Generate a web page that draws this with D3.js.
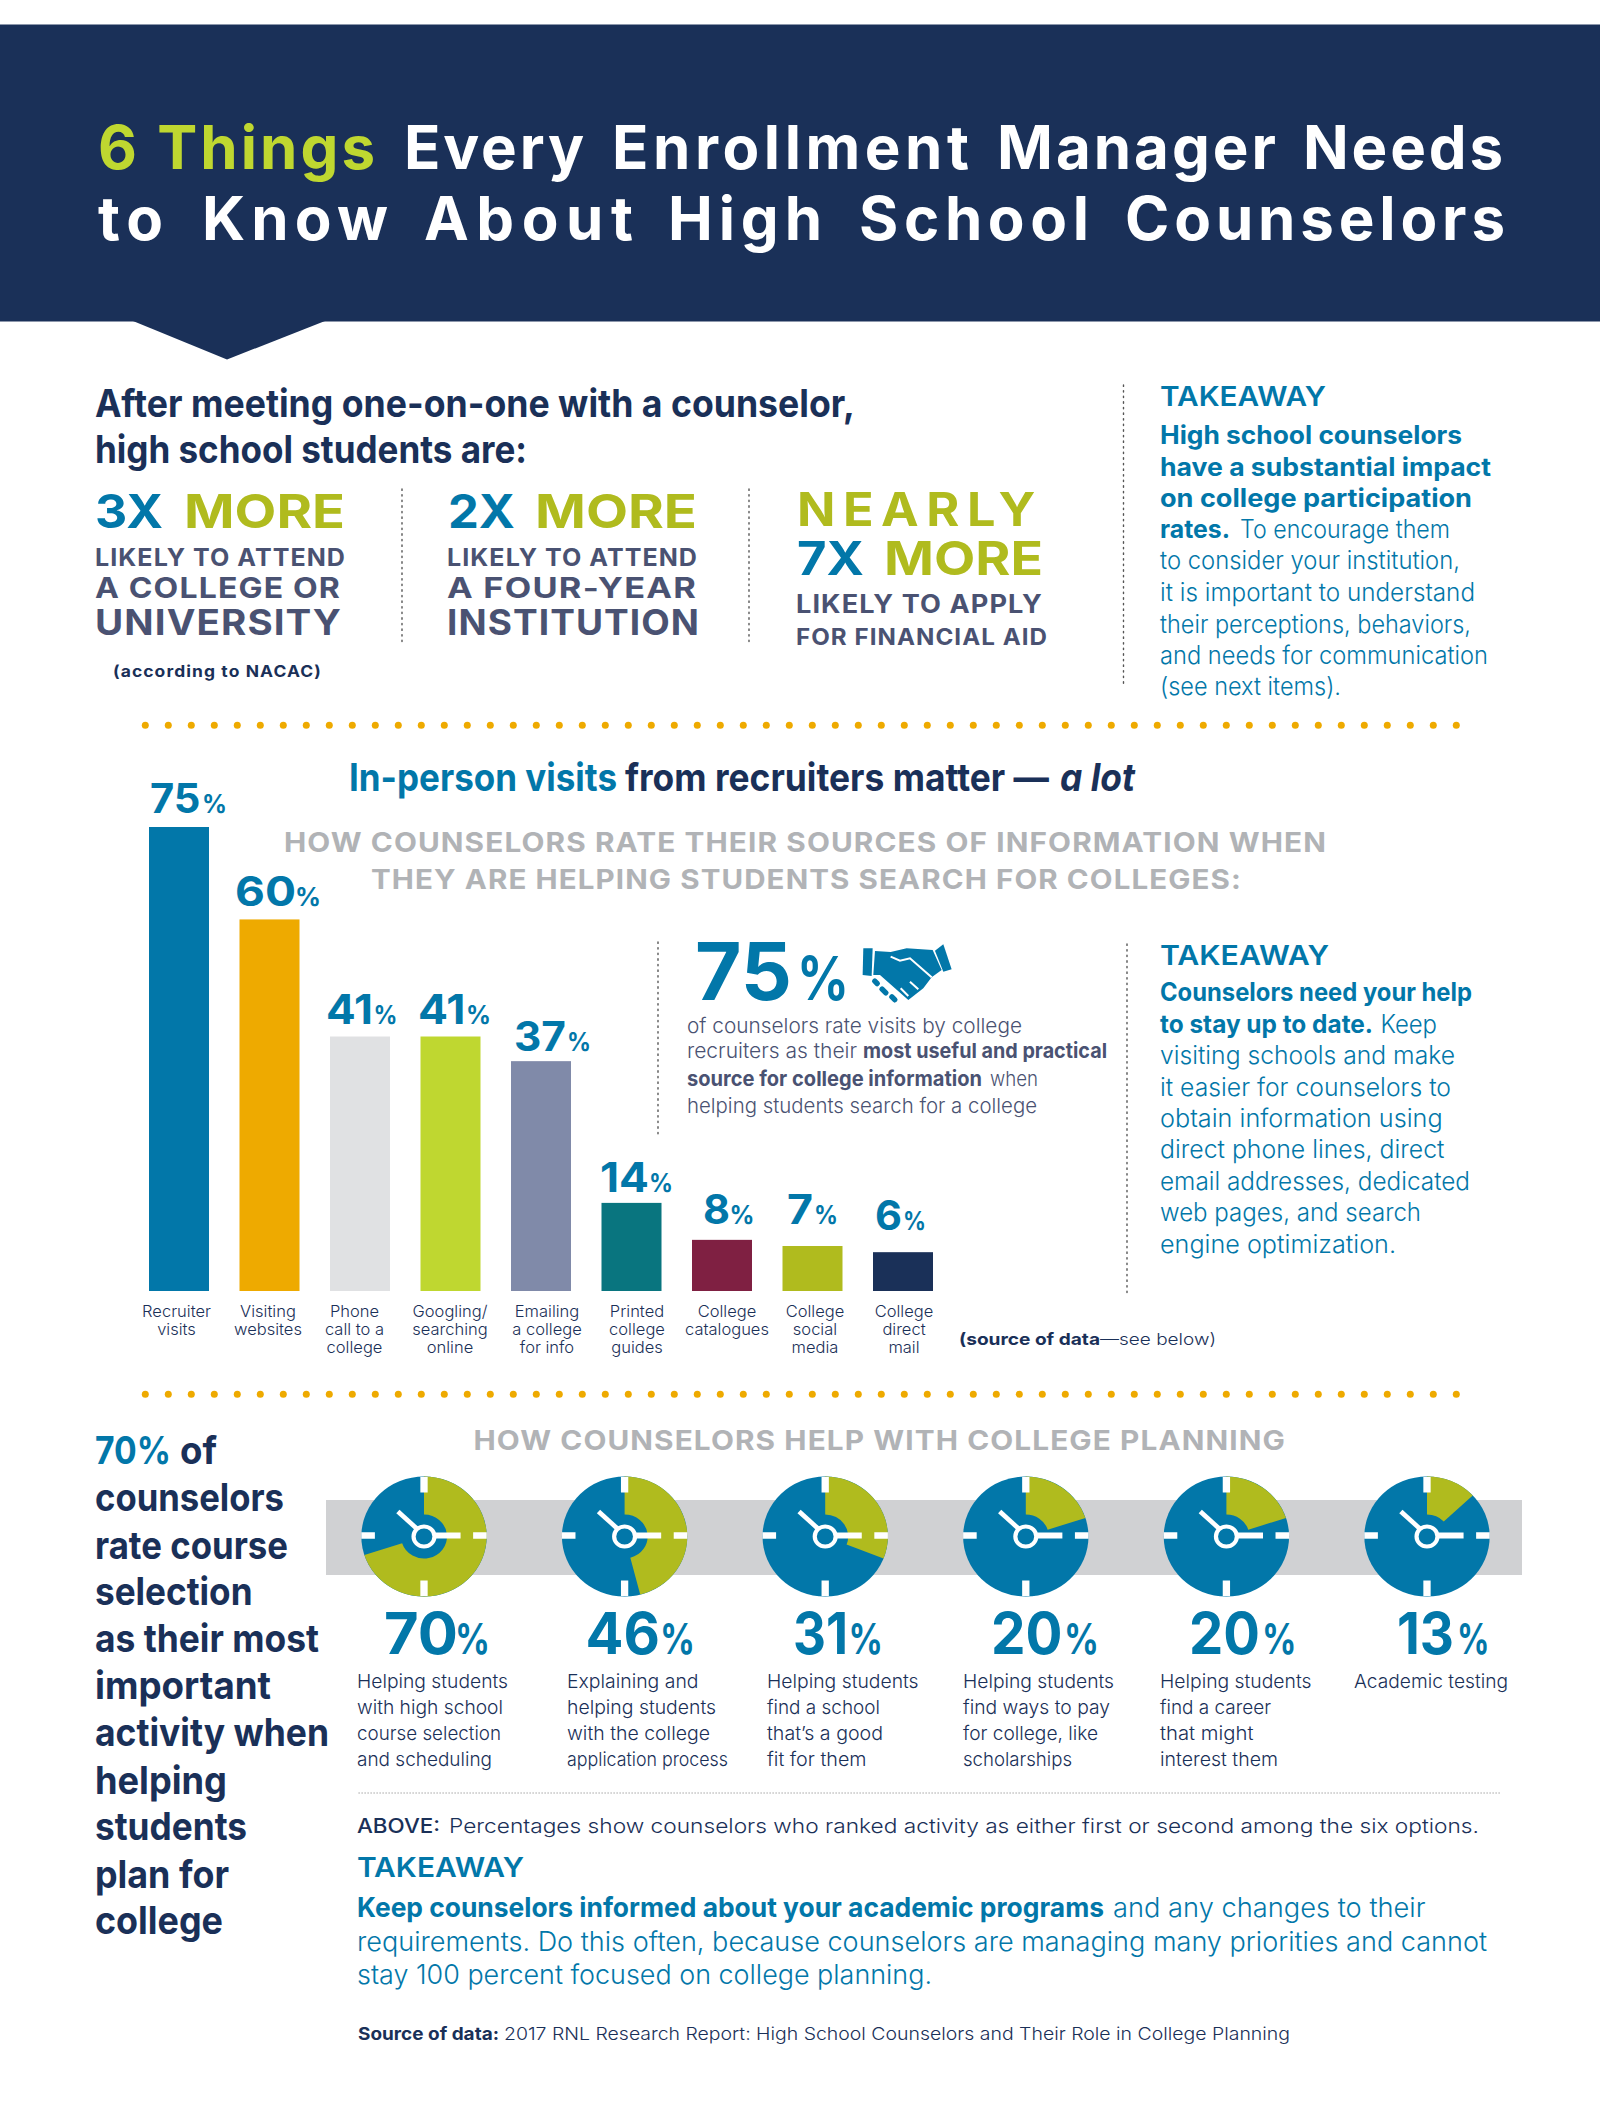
<!DOCTYPE html>
<html><head><meta charset="utf-8"><title>6 Things Every Enrollment Manager Needs to Know About High School Counselors</title>
<script src="https://cdn.jsdelivr.net/npm/d3@7/dist/d3.min.js"></script>
<style>html,body{margin:0;padding:0;background:#fff}svg{display:block;font-family:Inter,"Open Sans",sans-serif}</style>
</head><body><svg id="c" width="1600" height="2128" viewBox="0 0 1600 2128"></svg>
<script>
const NAVY="#1a3058",LIME="#bfd730",OLIVE="#b0bb1e",BLUE="#0277a9",GREY="#b1b3b6",SLATE="#4a5272";

// ---- bar chart data
const barCategories=["Recruiter visits","Visiting websites","Phone call to a college","Googling/ searching online","Emailing a college for info","Printed college guides","College catalogues","College social media","College direct mail"];
const barValues=[75,60,41,41,37,14,8,7,6];
const barColors=[BLUE,"#eeaa00","#e0e1e3",LIME,"#808aa9","#09757f","#7f2042",OLIVE,NAVY];
const barLabelLines=[["Recruiter","visits"],["Visiting","websites"],["Phone","call to a","college"],["Googling/","searching","online"],["Emailing","a college","for info"],["Printed","college","guides"],["College","catalogues"],["College","social","media"],["College","direct","mail"]];
const barLabelCenters=[176.5,268,354.5,450,547,637,727,815,904];
// x start, digits end, percent start, percent end for each value label; gap above the bar
const valueRuns=[[150,200.5,204,226],[235,296,297,320],[326,373,375.6,396.6],[418,465.5,468,490],[514,566,569,590],[600,649,651,672],[703,730,731.6,753.6],[787,813,816,837],[875,902,905,925]];
const valueGaps=[14,13.5,13,13,10,11,16,22,22];

// ---- clock chart data
const clockValues=[70,46,31,20,20,13];
const clockLabels=[
 ["Helping students","with high school","course selection","and scheduling"],
 ["Explaining and","helping students","with the college","application process"],
 ["Helping students","find a school","that\u2019s a good","fit for them"],
 ["Helping students","find ways to pay","for college, like","scholarships"],
 ["Helping students","find a career","that might","interest them"],
 ["Academic testing"]];
const clockLabelX=[357,567,767,963,1160,1354];
const clockLabelEnds=[[508,503,501,492],[698.5,716,710,728],[918.6,880,883,866.5],[1114,1110,1098,1072],[1311.5,1271,1253.5,1278],[1508]];
const clockValueRuns=[[384,458,458,488],[585.6,660,663,693],[793,848,851.6,881],[991,1062.5,1067,1097],[1189,1260,1265,1294.5],[1397,1454,1460,1487.5]];

// ---- text blocks: [text, xStart, xEnd]
const titleWords=[
 [["6 Things",98,375,LIME],["Every",404,584,"#fff"],["Enrollment",612,969,"#fff"],["Manager",997,1276,"#fff"],["Needs",1303,1503,"#fff"]],
 [["to",98,163,"#fff"],["Know",202,388,"#fff"],["About",424,633,"#fff"],["High",668,822,"#fff"],["School",859,1089,"#fff"],["Counselors",1125,1505,"#fff"]]];
const takeaway1=[
 [["High school counselors",1160,1462,700]],
 [["have a substantial impact",1160,1491,700]],
 [["on college participation",1160,1472,700]],
 [["rates.",1160,1230,700],["To encourage them",1240,1450,300]],
 [["to consider your institution,",1160,1460,300]],
 [["it is important to understand",1160,1475,300]],
 [["their perceptions, behaviors,",1160,1471,300]],
 [["and needs for communication",1160,1488,300]],
 [["(see next items).",1160,1341,300]]];
const takeaway1Y=[444,475.6,507,538,569,601,632.7,664,695];
const takeaway2=[
 [["Counselors need your help",1160,1472,700]],
 [["to stay up to date.",1160,1373,700],["Keep",1380.4,1437,300]],
 [["visiting schools and make",1160,1455,300]],
 [["it easier for counselors to",1160,1451,300]],
 [["obtain information using",1160,1442.6,300]],
 [["direct phone lines, direct",1160,1444.5,300]],
 [["email addresses, dedicated",1160,1470,300]],
 [["web pages, and search",1160,1421,300]],
 [["engine optimization.",1160,1396,300]]];
const takeaway2Y=[1001,1033,1064,1095.6,1127,1158,1190,1221,1252.5];
const leftLines=[[["70%",95,171,BLUE],["of",180,217,NAVY]],[["counselors",95,284,NAVY]],[["rate course",95,288,NAVY]],[["selection",95,252.5,NAVY]],[["as their most",95,319,NAVY]],[["important",95,271,NAVY]],[["activity when",95,329,NAVY]],[["helping",95,227,NAVY]],[["students",95,247,NAVY]],[["plan for",95,229,NAVY]],[["college",95,223,NAVY]]];
const leftY=[1464,1511.4,1559,1605,1651.6,1698.5,1746,1793.7,1840,1887.5,1934];

const svg=d3.select("#c");
function T(x,x2,y,s,size,fill,weight,opt={}){
  const t=svg.append("text").attr("x",x).attr("y",y).text(s).attr("font-size",size).attr("fill",fill).attr("font-weight",weight)
    .attr("textLength",x2-x).attr("lengthAdjust",opt.adjust||"spacingAndGlyphs");
  if(opt.italic)t.attr("font-style","italic");
  if(opt.ls)t.attr("letter-spacing",opt.ls);
  return t;
}
const SP={adjust:"spacing"},LS={ls:1};
function VDots(x,y1,y2,color="#555"){svg.append("line").attr("x1",x).attr("x2",x).attr("y1",y1).attr("y2",y2).attr("stroke",color).attr("stroke-width",1.4).attr("stroke-dasharray","1.4 4.2").attr("stroke-linecap","round");}

// header
svg.append("rect").attr("x",0).attr("y",24.5).attr("width",1600).attr("height",297).attr("fill",NAVY);
svg.append("path").attr("d",d3.line()([[133,321],[325,321],[227,359.5]])+"Z").attr("fill",NAVY);
titleWords.forEach((ln,i)=>ln.forEach(w=>T(w[1],w[2],i?239.7:169,w[0],60,w[3],700,SP)));

// top section
T(95,855,417,"After meeting one-on-one with a counselor,",38,NAVY,700);
T(95,527,463,"high school students are:",38,NAVY,700);
T(95,163,528,"3X",47,BLUE,700);T(184,345,528,"MORE",47,OLIVE,700);
T(448,515,528,"2X",47,BLUE,700);T(535,697,528,"MORE",47,OLIVE,700);
T(797,1043,526,"NEARLY",47,OLIVE,700,{ls:7});
T(797,864,575,"7X",47,BLUE,700);T(884,1043,575,"MORE",47,OLIVE,700);
[[95,346,566,"LIKELY TO ATTEND",24],[95,341,598,"A COLLEGE OR",28],[95,342,634.5,"UNIVERSITY",35],
 [447,698,566,"LIKELY TO ATTEND",24],[447,697,598,"A FOUR-YEAR",28],[447,700,634.5,"INSTITUTION",35],
 [796,1043,613,"LIKELY TO APPLY",25],[796,1048,645,"FOR FINANCIAL AID",23]].forEach(d=>T(d[0],d[1],d[2],d[3],d[4],SLATE,700,LS));
T(113,322,677,"(according to NACAC)",16,NAVY,700,LS);
VDots(402,489,645);VDots(749,489,645);VDots(1123.5,385,686);
T(1160,1326,406,"TAKEAWAY",27,BLUE,600);
takeaway1.forEach((ln,i)=>ln.forEach(r=>T(r[1],r[2],takeaway1Y[i],r[0],25,BLUE,r[3])));

// gold dotted rules
[725.3,1394.3].forEach(yy=>{
  svg.append("g").selectAll("circle").data(d3.range(58)).join("circle")
   .attr("cx",d=>145.3+d*23).attr("cy",yy).attr("r",3.5).attr("fill","#eeaa00");
});

// section 2 text
T(349,617,791,"In-person visits",38,BLUE,700);
T(625,1049,791,"from recruiters matter \u2014",38,NAVY,700);
T(1060,1135,791,"a lot",38,NAVY,700,{italic:true});
T(284,1327,852,"HOW COUNSELORS RATE THEIR SOURCES OF INFORMATION WHEN",27,GREY,700,LS);
T(371,1242,889,"THEY ARE HELPING STUDENTS SEARCH FOR COLLEGES:",27,GREY,700,LS);

// bars
const x=d3.scaleBand().domain(barCategories).range([149,933]).paddingInner(30.5/90.5);
const y=d3.scaleLinear().domain([-0.3,75]).range([1291,827]);
svg.append("g").selectAll("rect").data(barCategories).join("rect")
  .attr("x",d=>x(d)).attr("width",x.bandwidth())
  .attr("y",(d,i)=>y(barValues[i])).attr("height",(d,i)=>y.range()[0]-y(barValues[i]))
  .attr("fill",(d,i)=>barColors[i]);
barValues.forEach((v,i)=>{
  const r=valueRuns[i],yy=y(v)-valueGaps[i];
  T(r[0],r[1],yy,String(v),41,BLUE,700);
  T(r[2]-2,r[3]+1,yy,"%",25,BLUE,700);
});
barLabelLines.forEach((ls,i)=>ls.forEach((s,j)=>{
  svg.append("text").attr("x",barLabelCenters[i]).attr("y",1317+j*18).attr("text-anchor","middle").attr("font-size",16.5).attr("font-weight",300).attr("fill",NAVY).text(s);
}));
T(959,1100,1345,"(source of data",16.5,NAVY,700);
T(1100,1216,1345,"\u2014see below)",16.5,NAVY,300);

// 75% callout
VDots(658,942,1135);VDots(1127,944,1293);
T(695,792,1000,"75",80,BLUE,700);
T(797,849,1000,"%",60,BLUE,700);
const hs=svg.append("g").attr("transform","translate(660,920) scale(0.3333)").attr("fill",BLUE);
hs.append("path").attr("d","M610,85L638,85L635,168L608,165Z");
hs.append("path").attr("d","M825,92L850,73L875,148L850,155Z");
hs.append("path").attr("d","M645,93L692,96L740,85L818,90L845,150L815,172L790,205L745,240L705,205L660,165L640,165Z");
hs.append("path").attr("d","M692,110L720,122L750,115L815,172").attr("fill","none").attr("stroke","#fff").attr("stroke-width",6);
[[648,187,32],[672,213,38],[700,235,34]].forEach(f=>{
  hs.append("rect").attr("x",f[0]-f[2]/2).attr("y",f[1]-11).attr("width",f[2]).attr("height",22).attr("rx",10)
   .attr("transform",`rotate(45 ${f[0]} ${f[1]})`).attr("stroke","#fff").attr("stroke-width",6);
});
hs.append("path").attr("d","M722,205L745,228M750,185L775,208").attr("fill","none").attr("stroke","#fff").attr("stroke-width",6);
T(687,1022,1033,"of counselors rate visits by college",20.5,SLATE,300);
T(687,857,1058,"recruiters as their",20.5,SLATE,300);
T(863,1107,1058,"most useful and practical",20.5,SLATE,700);
T(687,982,1085.5,"source for college information",20.5,SLATE,700);
T(990,1038,1085.5,"when",20.5,SLATE,300);
T(687,1037,1113,"helping students search for a college",20.5,SLATE,300);

T(1160,1329,964.6,"TAKEAWAY",27,BLUE,600);
takeaway2.forEach((ln,i)=>ln.forEach(r=>T(r[1],r[2],takeaway2Y[i],r[0],25,BLUE,r[3])));

// section 3
leftLines.forEach((ln,i)=>ln.forEach(r=>T(r[1],r[2],leftY[i],r[0],38,r[3],700)));
T(473.5,1286,1450,"HOW COUNSELORS HELP WITH COLLEGE PLANNING",27,GREY,700,LS);
svg.append("rect").attr("x",326).attr("y",1500).attr("width",1196).attr("height",75).attr("fill","#d0d1d3");

const cx=d3.scalePoint().domain(d3.range(clockValues.length)).range([424,1427]);
const R=60, arcOuter=d3.arc().innerRadius(22).outerRadius(R).startAngle(0);
const clocks=svg.append("g").selectAll("g").data(clockValues).join("g")
  .attr("transform",(d,i)=>`translate(${cx(i)},1536.5) scale(1.045,1)`);
clocks.append("circle").attr("r",R).attr("fill",BLUE);
clocks.append("path").attr("d",d=>arcOuter({endAngle:d/100*2*Math.PI})).attr("fill",OLIVE);
const ticks=[[0,-59.5,0,-44],[0,59.5,0,44],[-60,-1,-47,-1],[60,-1,47,-1]];
clocks.each(function(){
  const g=d3.select(this);
  ticks.forEach(t=>g.append("line").attr("x1",t[0]).attr("y1",t[1]).attr("x2",t[2]).attr("y2",t[3]).attr("stroke","#fff").attr("stroke-width",t[0]===0?7:6.5));
  g.append("line").attr("x1",11).attr("y1",-1).attr("x2",35).attr("y2",-1).attr("stroke","#fff").attr("stroke-width",6);
  g.append("line").attr("x1",-7).attr("y1",-8).attr("x2",-25).attr("y2",-25).attr("stroke","#fff").attr("stroke-width",4.5);
  g.append("circle").attr("r",10).attr("fill",BLUE).attr("stroke","#fff").attr("stroke-width",4);
});
clockValues.forEach((v,i)=>{
  const r=clockValueRuns[i];
  T(r[0],r[1],1654,String(v),58,BLUE,700);
  T(r[2]-3,r[3]+2,1654,"%",42,BLUE,700);
});
clockLabels.forEach((ls,i)=>ls.forEach((s,j)=>T(clockLabelX[i],clockLabelEnds[i][j],1688+j*26,s,19,NAVY,300)));

svg.append("line").attr("x1",358.6).attr("x2",1501).attr("y1",1793).attr("y2",1793).attr("stroke","#777").attr("stroke-width",1).attr("stroke-dasharray","1 2");
T(357,440,1832.7,"ABOVE:",20,NAVY,500);
T(449,1479,1832.7,"Percentages show counselors who ranked activity as either first or second among the six options.",20,NAVY,300);
T(357,524,1877,"TAKEAWAY",27,BLUE,600);
T(357,1104,1916.7,"Keep counselors informed about your academic programs",27,BLUE,700);
T(1113,1425.5,1916.7,"and any changes to their",27,BLUE,300);
T(357,1487,1950.6,"requirements. Do this often, because counselors are managing many priorities and cannot",27,BLUE,300);
T(357,932,1984,"stay 100 percent focused on college planning.",27,BLUE,300);
T(358,499,2040,"Source of data:",17.5,NAVY,700);
T(504,1290,2040,"2017 RNL Research Report: High School Counselors and Their Role in College Planning",17.5,NAVY,300);
</script></body></html>
